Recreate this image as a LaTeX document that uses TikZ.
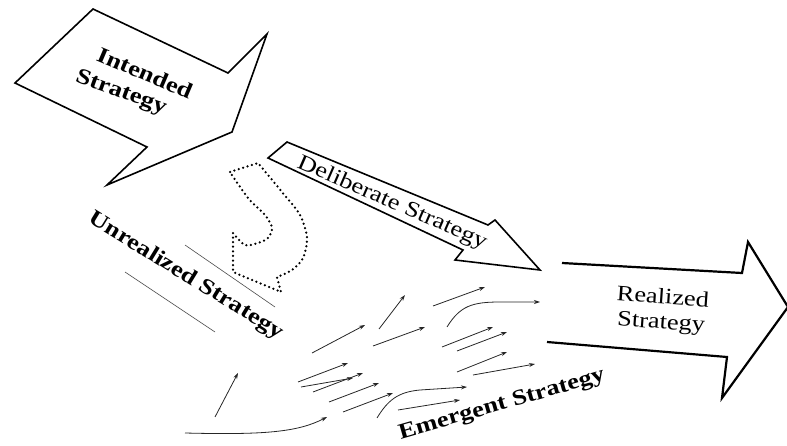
\documentclass[tikz,border=0pt]{standalone}
\usepackage{fontspec}
\setmainfont{Liberation Serif}
\newfontfamily\widefont[FakeStretch=1.2]{Liberation Serif}
\usetikzlibrary{arrows.meta}
\tikzset{
  bigarrow/.style={draw=black, fill=white, line width=1.6pt, line join=miter},
  dotline/.style={draw=black, line width=2.5pt, dash pattern=on 0pt off 4.6pt, line cap=round},
  thinline/.style={draw=black!70, line width=0.6pt},
  small/.style={draw=black!85, line width=0.8pt, -{Stealth[length=6pt,width=4pt]}},
  lbl/.style={font=\widefont\fontsize{22}{25}\selectfont, align=center, inner sep=0pt},
  blbl/.style={font=\widefont\fontsize{22}{25}\selectfont\bfseries, align=center, inner sep=0pt}
}
\begin{document}
\begin{tikzpicture}[x=1pt,y=-1pt]
\useasboundingbox (0,0) rectangle (787,446);

% Intended strategy arrow
\draw[bigarrow] (93,9) -- (228,73) -- (267,34) -- (232,132) -- (107,185) -- (147,147) -- (15,83) -- cycle;
\node[blbl, rotate=-23] (int1) at (145,73) {Intended};
\node[blbl, rotate=-20] (int2) at (121,93) {Strategy};

% Deliberate strategy arrow
\draw[bigarrow] (287,142) -- (488,225) -- (495,220) -- (540,270) -- (455,260) -- (463,250) -- (268,158) -- cycle;
\node[lbl, rotate=-23.5] (del) at (392,203) {Deliberate Strategy};

% Unrealized (dotted) arrow
\draw[dotline] (230,172) -- (258,163)
  -- plot[smooth] coordinates {(258,163) (282,192) (300,215) (307,238) (303,258) (292,270) (277,277)}
  -- (281,292) -- (233,272) -- (233,233)
  -- plot[smooth] coordinates {(233,233) (245,245) (258,243) (268,238) (272,228) (265,215) (248,198) (230,172)};

% Unrealized label and lines
\draw[thinline] (185,245) -- (275,307);
\draw[thinline] (125,272) -- (215,332);
\node[blbl, rotate=-31.5] (unr) at (186,276) {Unrealized Strategy};

% Realized strategy arrow
\draw[bigarrow, line width=2.2pt] (562,263) -- (742,273) -- (748,242) -- (788,307) -- (722,398) -- (727,357) -- (547,342);
\node[lbl, rotate=-4] (real) at (662,311) {Realized\\Strategy};

% Emergent label
\node[blbl, rotate=16] (emg) at (502,405) {Emergent Strategy};

% small emergent arrows
\draw[small] (215,417) -- (238,373);
\draw[small] (185,433) .. controls (265,435) and (298,432) .. (327,417);
\draw[small] (312,353) -- (365,325);
\draw[small] (379,329) -- (405,295);
\draw[small] (373,346) -- (425,327);
\draw[small] (433,306) -- (485,287);
\draw[small] (447,327) .. controls (460,306) and (472,302) .. (500,302) -- (540,302);
\draw[small] (442,347) -- (493,327);
\draw[small] (457,351) -- (507,332);
\draw[small] (457,372) -- (507,352);
\draw[small] (473,375) -- (535,364);
\draw[small] (298,382) -- (348,363);
\draw[small] (301,387) -- (353,378);
\draw[small] (313,392) -- (363,373);
\draw[small] (329,402) -- (379,383);
\draw[small] (343,412) -- (393,393);
\draw[small] (377,418) .. controls (388,400) and (398,392) .. (420,390) -- (467,387);
\draw[small] (398,410) -- (460,400);
\end{tikzpicture}
\end{document}
